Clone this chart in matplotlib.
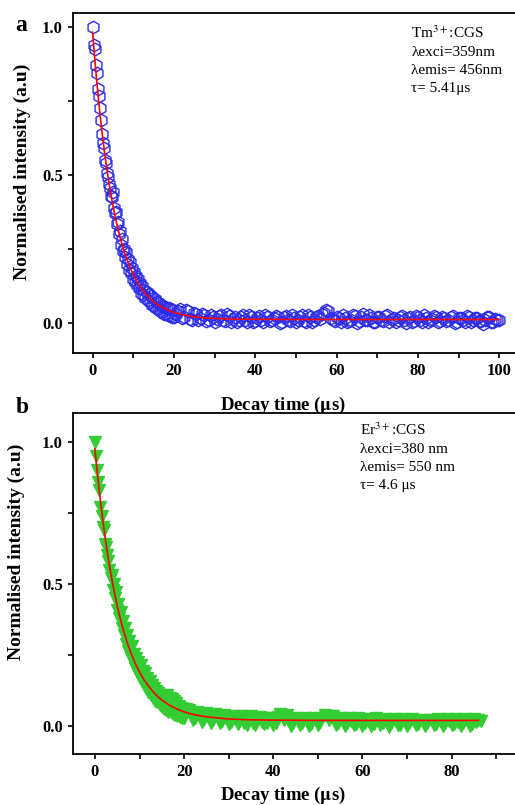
import numpy as np
import matplotlib
matplotlib.use('Agg')
import matplotlib.pyplot as plt

plt.rcParams['font.family'] = ['Liberation Serif', 'DejaVu Serif']
plt.rcParams['mathtext.fontset'] = 'stix'

# panel a : Tm3+:CGS decay
tm_t_early = np.arange(0, 20.01, 0.25)
tm_early = [
    1.000, 0.940, 0.925, 0.872, 0.845, 0.790, 0.768, 0.726,
    0.686, 0.640, 0.608, 0.590, 0.550, 0.540, 0.505, 0.493,
    0.470, 0.455, 0.430, 0.425, 0.443, 0.390, 0.370, 0.375,
    0.335, 0.340, 0.300, 0.310, 0.262, 0.285, 0.245, 0.250,
    0.222, 0.240, 0.200, 0.215, 0.180, 0.205, 0.168, 0.185,
    0.150, 0.172, 0.140, 0.158, 0.128, 0.150, 0.118, 0.135,
    0.100, 0.125, 0.095, 0.112, 0.085, 0.105, 0.078, 0.098,
    0.070, 0.090, 0.062, 0.085, 0.058, 0.080, 0.050, 0.072,
    0.048, 0.068, 0.040, 0.062, 0.038, 0.058, 0.032, 0.055,
    0.030, 0.050, 0.028, 0.052, 0.025, 0.048, 0.022, 0.045,
    0.020,
]
tm_t_tail = np.arange(21, 101, 1)
tm_tail = [
    0.040, 0.018, 0.045, 0.015, 0.035, 0.010, 0.030, 0.008, 0.028, 0.005,
    0.025, 0.012, 0.030, 0.004, 0.022, 0.010, 0.026, 0.002, 0.020, 0.008,
    0.024, 0.003, 0.022, 0.010, 0.025, 0.000, 0.020, 0.012, 0.026, 0.004,
    0.022, 0.008, 0.028, 0.002, 0.020, 0.014, 0.035, 0.040, 0.010, 0.022,
    0.002, 0.018, 0.008, 0.026, 0.000, 0.020, 0.010, 0.028, 0.004, 0.022,
    0.012, 0.025, 0.003, 0.018, 0.010, 0.024, 0.000, 0.020, 0.008, 0.022,
    0.004, 0.018, 0.012, 0.025, 0.002, 0.020, 0.006, 0.022, 0.000, 0.018,
    0.010, 0.024, 0.002, 0.016, 0.008, -0.002, 0.020, 0.004, 0.015, 0.010,
]
tm_t_half = np.arange(20.5, 100, 1)
tm_half = [
    0.030, 0.048, 0.020, 0.040, 0.012, 0.032, 0.018, 0.026, 0.012, 0.022,
    0.015, 0.028, 0.006, 0.024, 0.014, 0.002, 0.020, 0.010, 0.028, 0.004,
    0.018, 0.012, 0.026, 0.006, 0.016, 0.022, 0.002, 0.024, 0.008, 0.018,
    0.012, 0.026, 0.004, 0.020, 0.010, 0.024, 0.030, 0.045, 0.018, 0.006,
    0.016, 0.026, 0.004, 0.012, 0.024, 0.006, 0.030, 0.012, 0.018, 0.002,
    0.020, 0.006, 0.026, 0.014, 0.002, 0.022, 0.012, 0.018, 0.004, 0.024,
    0.012, 0.026, 0.004, 0.014, 0.022, 0.008, 0.018, 0.010, 0.024, 0.004,
    0.016, 0.002, 0.022, 0.010, 0.018, 0.006, 0.012, 0.020, 0.002, 0.012,
]
tm_fit_t = [0, 0.5, 1, 1.5, 2, 2.5, 3, 3.5, 4, 4.5, 5, 5.5, 6, 6.5, 7, 7.5, 8, 8.5,
            9, 9.5, 10, 11, 12, 13, 14, 15, 16, 17, 18, 19, 20, 22, 24, 26, 28,
            30, 35, 40, 50, 60, 70, 80, 90, 100]
tm_fit = [0.982, 0.896, 0.818, 0.747, 0.682, 0.623, 0.569, 0.519, 0.475, 0.434,
          0.396, 0.362, 0.331, 0.303, 0.277, 0.254, 0.232, 0.213, 0.195, 0.179,
          0.164, 0.138, 0.117, 0.099, 0.085, 0.072, 0.062, 0.054, 0.047, 0.041,
          0.036, 0.029, 0.023, 0.020, 0.017, 0.016, 0.013, 0.013, 0.012, 0.012,
          0.012, 0.012, 0.012, 0.012]

# panel b : Er3+:CGS decay
er_t_early = np.arange(0, 20.01, 0.25)
er_early = [
    1.000, 0.950, 0.900, 0.860, 0.830, 0.770, 0.740, 0.700,
    0.690, 0.640, 0.630, 0.600, 0.580, 0.550, 0.520, 0.530,
    0.480, 0.500, 0.450, 0.470, 0.410, 0.430, 0.380, 0.400,
    0.345, 0.370, 0.320, 0.345, 0.290, 0.320, 0.265, 0.300,
    0.240, 0.280, 0.225, 0.255, 0.205, 0.240, 0.190, 0.225,
    0.170, 0.215, 0.160, 0.195, 0.145, 0.185, 0.135, 0.170,
    0.120, 0.160, 0.110, 0.145, 0.100, 0.135, 0.090, 0.125,
    0.085, 0.115, 0.075, 0.110, 0.068, 0.100, 0.060, 0.105,
    0.055, 0.110, 0.050, 0.100, 0.048, 0.095, 0.042, 0.090,
    0.040, 0.080, 0.036, 0.072, 0.032, 0.065, 0.030, 0.060,
    0.028,
]
er_t_tail = np.arange(21, 87, 1)
er_tail = [
    0.055, 0.020, 0.050, 0.015, 0.045, 0.012, 0.042, 0.010, 0.038, 0.008,
    0.036, 0.006, 0.034, 0.005, 0.035, 0.004, 0.032, 0.006, 0.030, 0.003,
    0.033, 0.040, 0.038, 0.002, 0.030, 0.004, 0.030, 0.002, 0.028, 0.005,
    0.030, 0.036, 0.036, 0.003, 0.028, 0.002, 0.027, 0.004, 0.028, 0.000,
    0.026, 0.002, 0.027, 0.004, 0.026, -0.002, 0.026, 0.003, 0.025, 0.002,
    0.024, 0.004, 0.022, 0.002, 0.022, 0.004, 0.025, 0.002, 0.024, 0.003,
    0.025, 0.000, 0.026, 0.002, 0.024, 0.020,
]
er_t_half = np.arange(20.5, 87, 1)
er_half = [
    0.060, 0.035, 0.028, 0.040, 0.025, 0.030, 0.020, 0.035, 0.018, 0.030,
    0.015, 0.025, 0.020, 0.012, 0.030, 0.010, 0.024, 0.015, 0.012, 0.028,
    0.010, 0.042, 0.020, 0.025, 0.012, 0.020, 0.010, 0.022, 0.008, 0.020,
    0.015, 0.038, 0.020, 0.034, 0.010, 0.022, 0.012, 0.018, 0.008, 0.020,
    0.012, 0.018, 0.006, 0.020, 0.010, 0.016, 0.012, 0.018, 0.004, 0.016,
    0.010, 0.018, 0.006, 0.016, 0.012, 0.020, 0.008, 0.016, 0.010, 0.018,
    0.008, 0.016, 0.012, 0.020, 0.006, 0.015, 0.018,
]
er_fit_t = [0, 0.5, 1, 1.5, 2, 2.5, 3, 3.5, 4, 4.5, 5, 5.5, 6, 6.5, 7, 7.5, 8, 8.5,
            9, 9.5, 10, 11, 12, 13, 14, 15, 16, 17, 18, 19, 20, 22, 24, 26, 28,
            30, 35, 40, 50, 60, 70, 80, 86]
er_fit = [0.975, 0.896, 0.824, 0.757, 0.696, 0.641, 0.589, 0.542, 0.499, 0.460,
          0.423, 0.390, 0.359, 0.331, 0.306, 0.282, 0.260, 0.241, 0.222, 0.206,
          0.190, 0.163, 0.141, 0.122, 0.105, 0.092, 0.081, 0.071, 0.063, 0.056,
          0.050, 0.041, 0.035, 0.031, 0.028, 0.025, 0.022, 0.021, 0.020, 0.020,
          0.020, 0.020, 0.020]


def style_axes(ax, xlim, ylim, xticks, xminor):
    ax.set_xlim(*xlim)
    ax.set_ylim(*ylim)
    ax.set_xticks(xticks)
    ax.set_xticks(xminor, minor=True)
    ax.set_yticks([0.0, 0.5, 1.0])
    ax.set_yticks([0.25, 0.75], minor=True)
    ax.set_xticklabels([str(v) for v in xticks], fontweight='bold')
    ax.set_yticklabels(['0.0', '0.5', '1.0'], fontweight='bold')
    ax.spines['right'].set_visible(False)
    for s in ['left', 'bottom', 'top']:
        ax.spines[s].set_linewidth(1.3)
    ax.tick_params(which='both', direction='out', length=3.5, width=1.2,
                   top=False, right=False)
    ax.tick_params(which='major', labelsize=12, pad=3.5)
    ax.set_xlabel(r'Decay time ($\mathbf{\mu}$s)', fontsize=13.5, fontweight='bold')
    ax.set_ylabel('Normalised intensity (a.u)', fontsize=14, fontweight='bold')


fig = plt.figure(figsize=(5.15, 8.05), dpi=100)

# panel a
ax1 = fig.add_axes([0.141, 0.5615, 0.859, 0.4224])
ax1.plot(np.concatenate([tm_t_early, tm_t_half, tm_t_tail]), tm_early + tm_half + tm_tail,
         linestyle='none', marker='h', markersize=9, fillstyle='none',
         markeredgecolor='#2b2bea', markeredgewidth=1.0)
ax1.plot(tm_fit_t, tm_fit, color='red', linewidth=1.2, zorder=5)
style_axes(ax1, (-4.92, 103.86), (-0.101, 1.047),
           [0, 20, 40, 60, 80, 100], [10, 30, 50, 70, 90])
ax1.xaxis.set_label_coords(0.475, -0.124)
ax1.yaxis.set_label_coords(-0.094, 0.532)
ax1.text(0.766, 0.965, 'Tm$^{3+}$:CGS\n\u03bbexci=359nm\n\u03bbemis= 456nm\n\u03c4= 5.41\u03bcs',
         transform=ax1.transAxes, fontsize=11, va='top', ha='left', linespacing=1.5)
fig.text(0.041, 0.968, 'a', fontsize=17, fontweight='bold', ha='center', va='center')

# panel b
ax2 = fig.add_axes([0.141, 0.0634, 0.859, 0.4239])
ax2.plot(np.concatenate([er_t_early, er_t_half, er_t_tail]), er_early + er_half + er_tail,
         linestyle='none', marker='v', markersize=8,
         color='#33cc33', markeredgecolor='#33cc33')
ax2.plot(er_fit_t, er_fit, color='red', linewidth=1.2, zorder=5)
style_axes(ax2, (-5.0, 94.2), (-0.098, 1.102),
           [0, 20, 40, 60, 80], [10, 30, 50, 70, 90])
ax2.xaxis.set_label_coords(0.475, -0.09)
ax2.yaxis.set_label_coords(-0.108, 0.592)
ax2.text(0.65, 0.976, 'Er$^{3+}$:CGS\n\u03bbexci=380 nm\n\u03bbemis= 550 nm\n\u03c4= 4.6 \u03bcs',
         transform=ax2.transAxes, fontsize=11, va='top', ha='left', linespacing=1.5)
fig.text(0.0437, 0.4944, 'b', fontsize=17, fontweight='bold', ha='center', va='center')

fig.savefig('out.png', dpi=100)
